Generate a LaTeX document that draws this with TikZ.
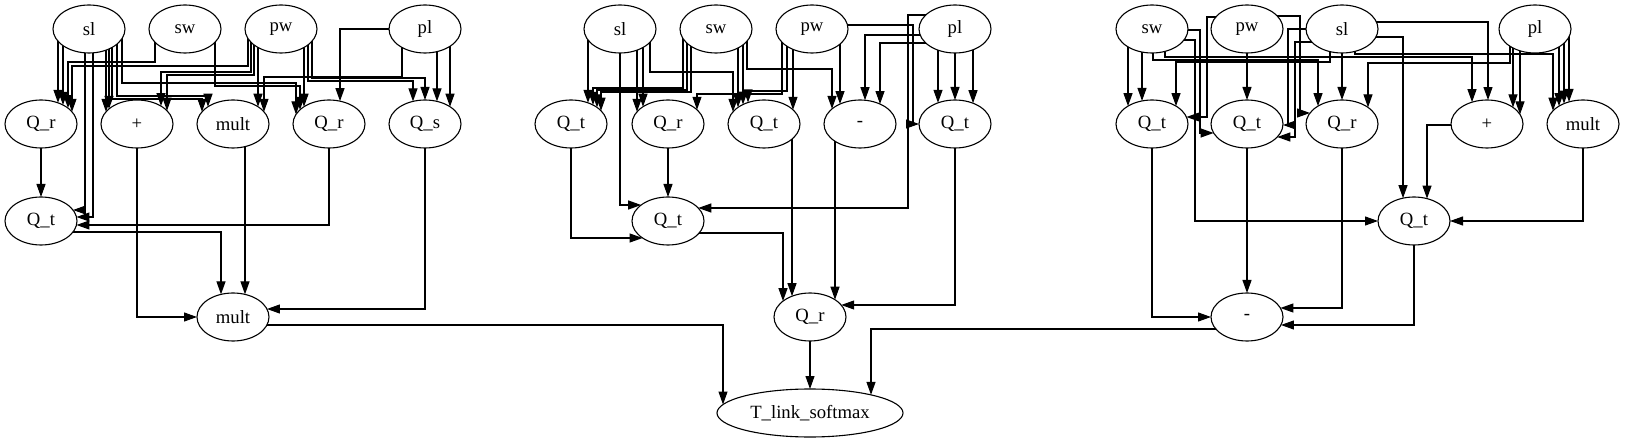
\documentclass[tikz,border=0pt]{standalone}
\usepackage{fontspec}
\setmainfont{Liberation Serif}
\usetikzlibrary{arrows.meta,shapes.geometric,calc,backgrounds}

% ops are 72x48 ellipses; each helper ends its arrow on the rim
\newcommand{\straightin}[3]{%
  \coordinate (t) at ($(#2)+({#3},{-24*sqrt(1-(#3)*(#3)/1296)})$);
  \draw[wire] (t |- #1) -- (t);}
\newcommand{\dropin}[5]{%
  \coordinate (s) at ($(#1)+(#2,0)$);
  \coordinate (m) at (0,#3);
  \coordinate (t) at ($(#4)+({#5},{-24*sqrt(1-(#5)*(#5)/1296)})$);
  \draw[wire] (s) |- (t |- m) -- (t);}
\newcommand{\sidein}[5]{%
  \coordinate (s) at ($(#1)+(#2,0)$);
  \coordinate (t) at ($(#3)+({#5*36*sqrt(1-(#4)*(#4)/576)},{#4})$);
  \draw[wire] (s) |- (t);}
\newcommand{\turnin}[4]{%
  \coordinate (s) at ($(#1)+(0,#2)$);
  \coordinate (t) at ($(#3)+({#4},{-24*sqrt(1-(#4)*(#4)/1296)})$);
  \draw[wire] (s) -| (t);}
\newcommand{\hookin}[6]{%
  \coordinate (s) at ($(#1)+(0,#2)$);
  \coordinate (m) at ($(#1)+(#3,0)$);
  \coordinate (t) at ($(#4)+({#6*36*sqrt(1-(#5)*(#5)/576)},{#5})$);
  \draw[wire] (s) -| (m |- t) -- (t);}

\begin{document}
\begin{tikzpicture}[x=1pt, y=-1pt, >={Triangle[length=13pt,width=9pt]},
                    every node/.style={font=\fontsize{18.7}{22}\selectfont},
                    gnode/.style={ellipse, draw, fill=white, line width=1.1pt,
                                  minimum width=72pt, minimum height=48pt, inner sep=0pt},
                    wire/.style={->, line width=1.1pt}]
  \useasboundingbox (0,0) rectangle (1629,443);

  % inputs
  \foreach \nm/\x/\lab in {Lsl/89/sl, Lsw/185/sw, Lpw/281/pw, Lpl/425/pl,
                           Msl/620/sl, Msw/716/sw, Mpw/812/pw, Mpl/955/pl,
                           Rsw/1152/sw, Rpw/1247/pw, Rsl/1342/sl, Rpl/1535/pl}
    \node[gnode] (\nm) at (\x,29) {\lab};

  % first layer of ops
  \foreach \nm/\x/\lab in {Lqa/41/Q\_r, Lplus/137/+, Lmul/233/mult, Lqb/329/Q\_r, Lqs/425/Q\_s,
                           Mqa/571/Q\_t, Mqb/668/Q\_r, Mqc/764/Q\_t, Mmin/860/-, Mqd/955/Q\_t,
                           Rqa/1152/Q\_t, Rqb/1247/Q\_t, Rqr/1342/Q\_r, Rplus/1487/+, Rmul/1583/mult}
    \node[gnode] (\nm) at (\x,124) {\lab};

  % deeper ops and output
  \node[gnode] (Lqt) at (41,221) {Q\_t};
  \node[gnode] (Mqt) at (668,221) {Q\_t};
  \node[gnode] (Rqt) at (1414,221) {Q\_t};
  \node[gnode] (Lout) at (233,317) {mult};
  \node[gnode] (Mqr) at (810,317) {Q\_r};
  \node[gnode] (Rmin) at (1247,317) {-};
  \node[gnode, minimum width=186pt] (T) at (810,413) {T\_link\_softmax};

  \begin{scope}[on background layer]
    % left branch
    \straightin{Lsl}{Lqa}{17}
    \straightin{Lsl}{Lqa}{22}
    \dropin{Lsw}{-30}{62}{Lqa}{27}
    \dropin{Lpw}{-33}{66}{Lqa}{31}
    \straightin{Lsl}{Lplus}{-31}
    \straightin{Lsl}{Lplus}{-28}
    \dropin{Lpw}{-30}{72}{Lplus}{24}
    \dropin{Lpw}{-27}{75}{Lplus}{30}
    \dropin{Lsl}{23}{99}{Lmul}{-31}
    \dropin{Lsl}{28}{96}{Lmul}{-25}
    \straightin{Lpw}{Lmul}{25}
    \dropin{Lpl}{-23}{77}{Lmul}{31}
    \dropin{Lsl}{33}{83}{Lqb}{-33}
    \dropin{Lsw}{30}{86}{Lqb}{-29}
    \straightin{Lpw}{Lqb}{-25}
    \turnin{Lpl}{0}{Lqb}{11}
    \dropin{Lpw}{27}{81}{Lqs}{-12}
    \dropin{Lpw}{31}{78}{Lqs}{0}
    \straightin{Lpl}{Lqs}{12}
    \straightin{Lpl}{Lqs}{25}
    \straightin{Lqa}{Lqt}{0}
    \sidein{Lsl}{-4}{Lqt}{-11}{1}
    \sidein{Lsl}{4}{Lqt}{-4}{1}
    \sidein{Lqb}{0}{Lqt}{4}{1}
    \turnin{Lqt}{11}{Lout}{-12}
    \straightin{Lmul}{Lout}{12}
    \sidein{Lplus}{0}{Lout}{0}{-1}
    \sidein{Lqs}{0}{Lout}{-8}{1}

    % middle branch
    \straightin{Msl}{Mqa}{17}
    \dropin{Msw}{-33}{88}{Mqa}{22}
    \dropin{Msw}{-29}{90}{Mqa}{26}
    \dropin{Msw}{-25}{92}{Mqa}{30}
    \straightin{Msl}{Mqb}{-31}
    \straightin{Msl}{Mqb}{-25}
    \dropin{Mpw}{-30}{94}{Mqb}{29}
    \dropin{Msl}{30}{72}{Mqc}{-31}
    \straightin{Msw}{Mqc}{-26}
    \straightin{Msw}{Mqc}{-21}
    \dropin{Mpw}{-25}{91}{Mqc}{-16}
    \straightin{Mpw}{Mqc}{29}
    \dropin{Msw}{31}{69}{Mmin}{-28}
    \straightin{Mpw}{Mmin}{-20}
    \turnin{Mpl}{6}{Mmin}{5}
    \turnin{Mpl}{14}{Mmin}{20}
    \straightin{Mpl}{Mqd}{-17}
    \straightin{Mpl}{Mqd}{0}
    \straightin{Mpl}{Mqd}{18}
    \hookin{Mpw}{-4}{101}{Mqd}{0}{-1}
    \hookin{Mpl}{-14}{-47}{Mqt}{-13}{1}
    \straightin{Mqb}{Mqt}{0}
    \sidein{Msl}{0}{Mqt}{-16}{-1}
    \sidein{Mqa}{0}{Mqt}{17}{-1}
    \turnin{Mqt}{12}{Mqr}{-27}
    \straightin{Mqc}{Mqr}{-18}
    \straightin{Mmin}{Mqr}{25}
    \sidein{Mqd}{0}{Mqr}{-12}{1}

    % right branch
    \straightin{Rsw}{Rqa}{-24}
    \straightin{Rsw}{Rqa}{-10}
    \dropin{Rsl}{-12}{62}{Rqa}{24}
    \hookin{Rpw}{-12}{-40}{Rqa}{-7}{1}
    \straightin{Rpw}{Rqb}{0}
    \hookin{Rsw}{1}{48}{Rqb}{9}{-1}
    \hookin{Rsl}{0}{-54}{Rqb}{1}{1}
    \hookin{Rsl}{13}{-47}{Rqb}{13}{1}
    \hookin{Rpw}{-13}{53}{Rqr}{-11}{-1}
    \dropin{Rsw}{1}{60}{Rqr}{-24}
    \straightin{Rsl}{Rqr}{0}
    \dropin{Rpl}{-25}{63}{Rqr}{26}
    \dropin{Rsw}{13}{57}{Rplus}{-15}
    \turnin{Rsl}{-7}{Rplus}{1}
    \straightin{Rpl}{Rplus}{26}
    \straightin{Rpl}{Rplus}{33}
    \dropin{Rsl}{13}{54}{Rmul}{-30}
    \straightin{Rpl}{Rmul}{-24}
    \straightin{Rpl}{Rmul}{-19}
    \straightin{Rpl}{Rmul}{-14}
    \hookin{Rsw}{11}{43}{Rqt}{0}{-1}
    \turnin{Rsl}{8}{Rqt}{-11}
    \turnin{Rplus}{1}{Rqt}{13}
    \sidein{Rmul}{0}{Rqt}{0}{1}
    \sidein{Rqa}{0}{Rmin}{0}{-1}
    \straightin{Rqb}{Rmin}{0}
    \sidein{Rqr}{0}{Rmin}{-9}{1}
    \sidein{Rqt}{0}{Rmin}{8}{1}

    % into the softmax
    \coordinate (ta) at ($(T)+({-87},{-24*sqrt(1-87*87/8649)})$);
    \draw[wire] ($(Lout)+(0,8)$) -| (ta);
    \straightin{Mqr}{T}{0}
    \coordinate (tb) at ($(T)+({61},{-24*sqrt(1-61*61/8649)})$);
    \draw[wire] ($(Rmin)+(0,12)$) -| (tb);
  \end{scope}
\end{tikzpicture}
\end{document}
